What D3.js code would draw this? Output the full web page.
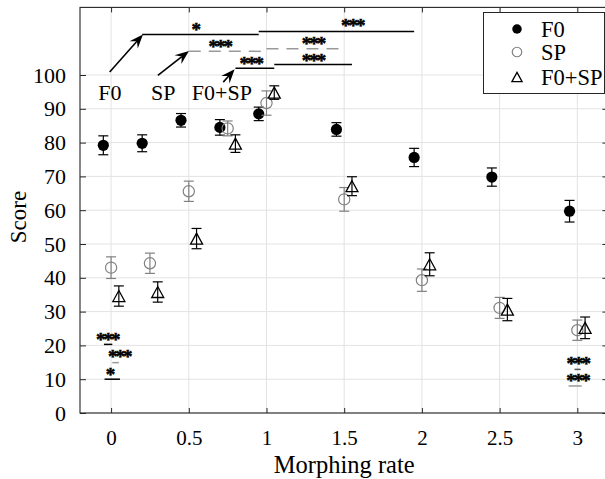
<!DOCTYPE html>
<html><head><meta charset="utf-8">
<script src="https://cdn.jsdelivr.net/npm/d3@7"></script>
<style>body{margin:0;background:#fff}svg{display:block}text{font-family:"Liberation Serif","Times New Roman",serif}</style>
</head><body>
<svg id="c" width="605" height="479"></svg>
<script>
// ---- data ----
const rates = [0, 0.25, 0.5, 0.75, 1, 1.5, 2, 2.5, 3];
const f0Vals = [79.2, 79.8, 86.6, 84.5, 88.5, 83.9, 75.6, 69.8, 59.7];
const f0Err  = [2.8, 2.5, 2.0, 2.3, 2.0, 2.0, 2.7, 2.7, 3.2];
const spVals = [43.0, 44.3, 65.6, 84.2, 91.7, 63.2, 39.3, 31.1, 24.5];
const spErr  = [3.2, 3.0, 3.0, 2.2, 3.6, 3.5, 3.3, 3.1, 3.0];
const fsVals = [34.6, 35.8, 51.6, 79.7, 94.8, 67.1, 44.0, 30.6, 25.2];
const fsErr  = [3.0, 3.0, 3.0, 2.6, 2.0, 2.8, 3.4, 3.3, 3.2];
const seriesNames = ["F0", "SP", "F0+SP"];
const xTicks = [0, 0.5, 1, 1.5, 2, 2.5, 3];
const xTickLabels = ["0", "0.5", "1", "1.5", "2", "2.5", "3"];
const yTicks = [0, 10, 20, 30, 40, 50, 60, 70, 80, 90, 100];
const yTickLabels = ["0","10","20","30","40","50","60","70","80","90","100"];
// significance brackets: [x1, x2, y, group]
const sigLines = [
  [0.2, 0.95, 112.0, "F0"], [0.95, 1.95, 112.9, "F0"],
  [0.5, 1.0, 107.0, "SP"], [1.0, 1.5, 107.8, "SP"],
  [0.8, 1.05, 102.0, "F0+SP"], [1.05, 1.55, 103.1, "F0+SP"]
];
// significance labels: [x, y, text]
const sigLabels = [
  [0.548, 114.4, "*"], [1.552, 115.4, "***"],
  [0.70, 109.3, "***"], [1.30, 110.1, "***"],
  [0.898, 104.3, "***"], [1.30, 105.1, "***"]
];
// bottom markers: [x1, x2, lineY, group, labelX, labelY, text]
const lowSig = [
  [-0.046, 0.008, 20.3, "F0", -0.024, 22.6, "***"],
  [0.008, 0.05, 14.9, "SP", 0.053, 17.6, "***"],
  [-0.042, 0.057, 10.0, "F0", -0.003, 12.2, "*"],
  [2.982, 3.021, 12.9, "F0d", 3.002, 15.5, "***"],
  [2.944, 3.028, 8.0, "SP", 3.001, 10.6, "***"]
];
// arrows: [tailX, tailY, headX, headY, label, labelX, labelY]
const arrows = [
  [-0.009, 100.9, 0.205, 112.0, "F0", -0.008, 94.9],
  [0.301, 99.9, 0.501, 107.1, "SP", 0.335, 94.9],
  [0.722, 97.9, 0.795, 101.7, "F0+SP", 0.713, 94.9]
];

// ---- layout ----
const svg = d3.select("#c");
const x = d3.scaleLinear().domain([-0.2, 3.2]).range([80, 608.4]);
const y = d3.scaleLinear().domain([0, 120]).range([413, 7.4]);
const axisCol = "#262626", gridCol = "#e3e3e3", grey = "#808080";
const X0 = x.range()[0], X1 = x.range()[1], Y0 = y.range()[0], Y1 = y.range()[1];

// grid
svg.append("g").selectAll("line").data(xTicks).join("line")
  .attr("x1", d => x(d)).attr("x2", d => x(d)).attr("y1", Y0).attr("y2", Y1)
  .attr("stroke", gridCol).attr("stroke-width", 1);
svg.append("g").selectAll("line").data(yTicks).join("line")
  .attr("x1", X0).attr("x2", X1).attr("y1", d => y(d)).attr("y2", d => y(d))
  .attr("stroke", gridCol).attr("stroke-width", 1);

// axes via d3 axis generators (inward ticks)
const fmtX = (d) => xTickLabels[xTicks.indexOf(d)];
const fmtY = (d) => yTickLabels[yTicks.indexOf(d)];
const gB = svg.append("g").attr("transform", `translate(0,${Y0})`)
  .call(d3.axisBottom(x).tickValues(xTicks).tickFormat(fmtX).tickSizeInner(-5).tickSizeOuter(0).tickPadding(17));
const gT = svg.append("g").attr("transform", `translate(0,${Y1})`)
  .call(d3.axisTop(x).tickValues(xTicks).tickFormat("").tickSizeInner(-5).tickSizeOuter(0));
const gL = svg.append("g").attr("transform", `translate(${X0},0)`)
  .call(d3.axisLeft(y).tickValues(yTicks).tickFormat(fmtY).tickSizeInner(-6).tickSizeOuter(0).tickPadding(14));
const gR = svg.append("g").attr("transform", `translate(${X1},0)`)
  .call(d3.axisRight(y).tickValues(yTicks).tickFormat("").tickSizeInner(-6).tickSizeOuter(0));
[gB, gT, gL, gR].forEach(g => {
  g.select(".domain").remove();
  g.selectAll(".tick line").attr("stroke", axisCol);
  g.selectAll("text").attr("fill", "#000").style("font-family", '"Liberation Serif",serif');
});
gB.selectAll("text").style("font-size", "21px");
gL.selectAll("text").style("font-size", "22px");
// box
svg.append("rect").attr("x", X0).attr("y", Y1).attr("width", X1 - X0).attr("height", Y0 - Y1)
  .attr("fill", "none").attr("stroke", axisCol).attr("stroke-width", 1.1);

// axis labels
svg.append("text").attr("x", (x(0) + x(3)) / 2).attr("y", 473).attr("text-anchor", "middle")
  .style("font-size", "24.5px").text("Morphing rate");
svg.append("text").attr("transform", "translate(26,217) rotate(-90)").attr("text-anchor", "middle")
  .style("font-size", "23px").text("Score");

// series
const series = [
  {name: seriesNames[0], vals: f0Vals, err: f0Err, off: -0.05, col: "#000", sym: "dot"},
  {name: seriesNames[1], vals: spVals, err: spErr, off: 0, col: grey, sym: "circle"},
  {name: seriesNames[2], vals: fsVals, err: fsErr, off: 0.05, col: "#000", sym: "tri"}
];
function drawMarker(g, sym, cx, cy, col, s) {
  if (sym === "dot") g.append("circle").attr("cx", cx).attr("cy", cy).attr("r", 5.6 * s).attr("fill", "#000");
  else if (sym === "circle") g.append("circle").attr("cx", cx).attr("cy", cy).attr("r", 5.6 * s)
    .attr("fill", "none").attr("stroke", col).attr("stroke-width", 1.2);
  else {
    const h = 11 * s, w = 12 * s;
    g.append("path").attr("d", `M${cx},${cy - h / 2}L${cx + w / 2},${cy + h / 2}L${cx - w / 2},${cy + h / 2}Z`)
      .attr("fill", "none").attr("stroke", col).attr("stroke-width", 1.3);
  }
}
series.forEach(s => {
  const g = svg.append("g");
  rates.forEach((r, i) => {
    const cx = x(r + s.off), v = s.vals[i], e = s.err[i];
    const yt = y(v + e), yb = y(v - e);
    g.append("line").attr("x1", cx).attr("x2", cx).attr("y1", yt).attr("y2", yb).attr("stroke", s.col).attr("stroke-width", 1.2);
    g.append("line").attr("x1", cx - 5).attr("x2", cx + 5).attr("y1", yt).attr("y2", yt).attr("stroke", s.col).attr("stroke-width", 1.2);
    g.append("line").attr("x1", cx - 5).attr("x2", cx + 5).attr("y1", yb).attr("y2", yb).attr("stroke", s.col).attr("stroke-width", 1.2);
    drawMarker(g, s.sym, cx, y(v), s.col, 1);
  });
});

// significance lines
const lineStyle = {"F0": ["#000", null], "SP": ["#999", "12,8"], "F0+SP": ["#000", null], "F0d": ["#555", null]};
const ann = svg.append("g");
sigLines.forEach(d => {
  const [c, dash] = lineStyle[d[3]];
  ann.append("line").attr("x1", x(d[0])).attr("x2", x(d[1])).attr("y1", y(d[2])).attr("y2", y(d[2]))
    .attr("stroke", c).attr("stroke-width", 1.5).attr("stroke-dasharray", dash);
});
function star(xv, yv, t) {
  ann.append("text").attr("x", x(xv)).attr("y", y(yv) + 9.5).attr("text-anchor", "middle")
    .style("font-size", "19px").style("font-weight", "bold")
    .style("letter-spacing", t.length > 1 ? "-2px" : "0px")
    .style("stroke", "#000").style("stroke-width", 0.5).text(t);
}
sigLabels.forEach(d => star(d[0], d[1], d[2]));
lowSig.forEach(d => {
  const [c] = lineStyle[d[3]];
  ann.append("line").attr("x1", x(d[0])).attr("x2", x(d[1])).attr("y1", y(d[2])).attr("y2", y(d[2]))
    .attr("stroke", d[3] === "SP" ? "#999" : c).attr("stroke-width", 1.5);
  star(d[4], d[5], d[6]);
});

// arrows
arrows.forEach(a => {
  const x1 = x(a[0]), y1 = y(a[1]), x2 = x(a[2]), y2 = y(a[3]);
  const ang = Math.atan2(y2 - y1, x2 - x1);
  const L = 14, W = 5.5, back = 9;
  const ux = Math.cos(ang), uy = Math.sin(ang), px = -uy, py = ux;
  const bx = x2 - ux * L, by = y2 - uy * L;
  const nx = x2 - ux * back, ny = y2 - uy * back;
  ann.append("line").attr("x1", x1).attr("y1", y1).attr("x2", nx).attr("y2", ny).attr("stroke", "#000").attr("stroke-width", 1.6);
  ann.append("path").attr("d", `M${x2},${y2}L${bx + px * W},${by + py * W}L${nx},${ny}L${bx - px * W},${by - py * W}Z`).attr("fill", "#000");
  ann.append("text").attr("x", x(a[5])).attr("y", y(a[6]) + 7.5).attr("text-anchor", "middle")
    .style("font-size", "22px").text(a[4]);
});

// legend
const lg = svg.append("g");
lg.append("rect").attr("x", 483.5).attr("y", 12.5).attr("width", 121).attr("height", 81)
  .attr("fill", "#fff").attr("stroke", axisCol).attr("stroke-width", 1);
const legRows = [29, 52, 77];
series.forEach((s, i) => {
  drawMarker(lg, s.sym, 517, legRows[i], s.col, 0.85);
  lg.append("text").attr("x", 541).attr("y", legRows[i] + 7.5).style("font-size", "22.5px").text(s.name);
});
</script>
</body></html>
